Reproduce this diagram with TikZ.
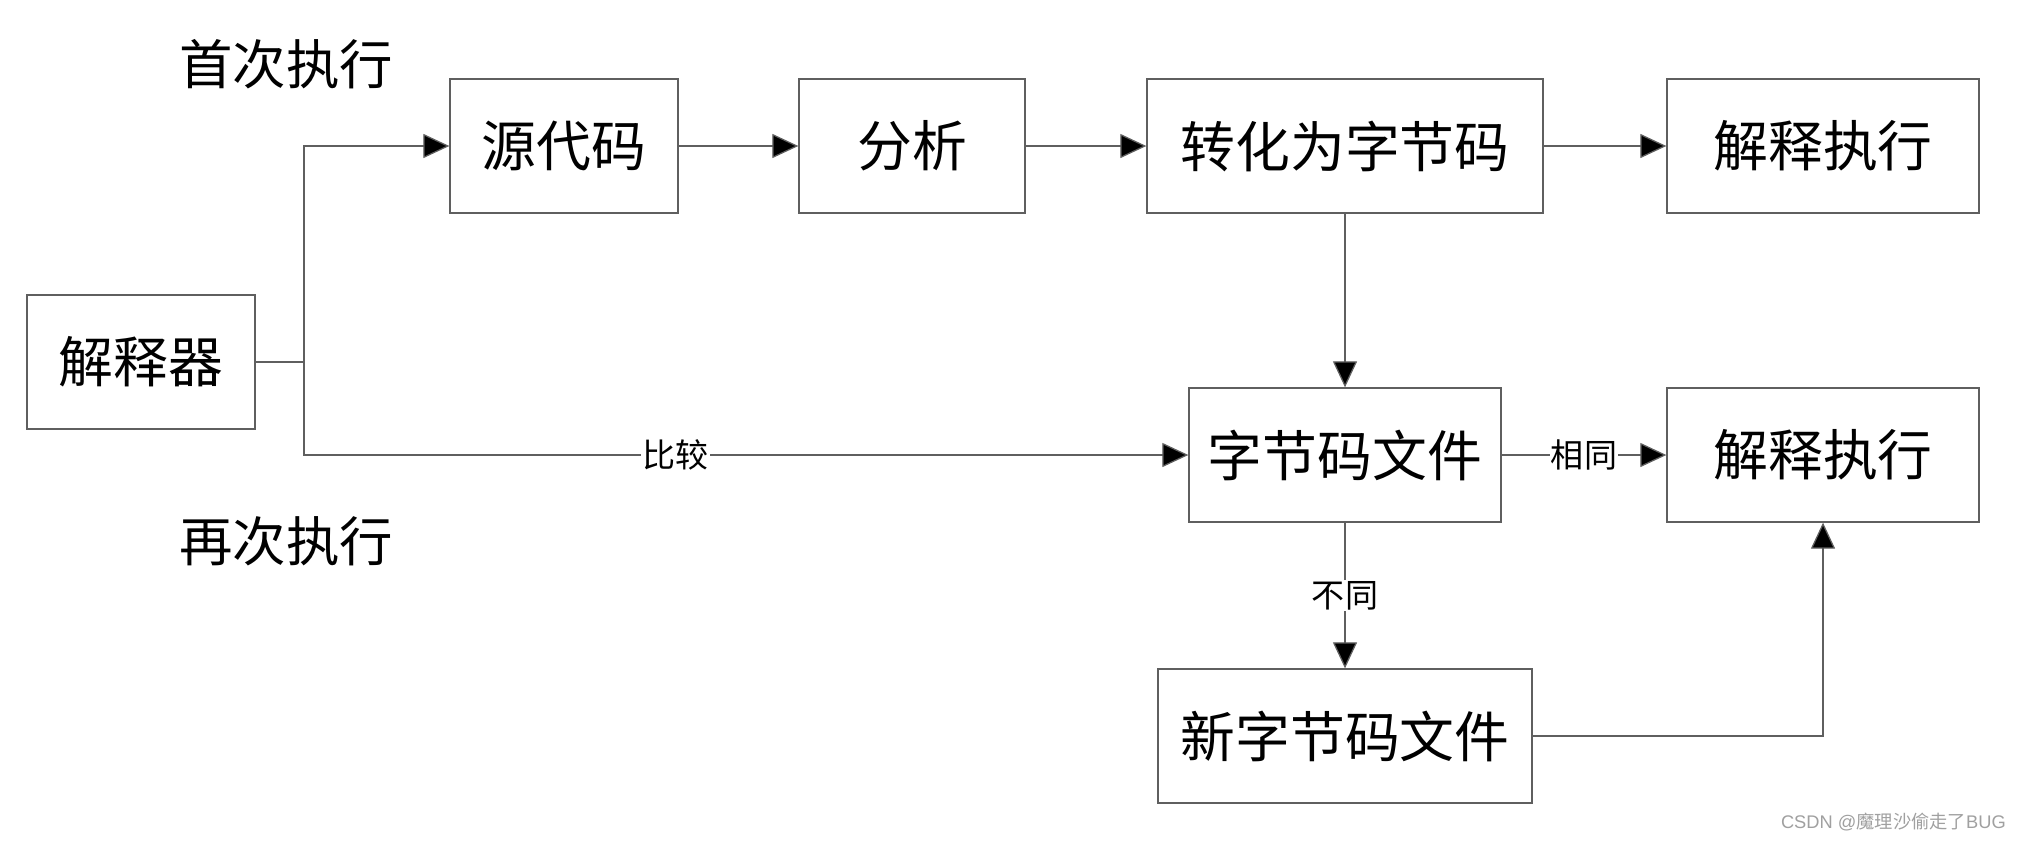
\documentclass[tikz,border=0pt]{standalone}
\usepackage{fontspec}
\newfontfamily\cjk{Noto Sans CJK SC}
\usetikzlibrary{arrows.meta}
\definecolor{linegray}{RGB}{95,95,95}
\definecolor{wmgray}{RGB}{160,160,160}
\begin{document}
\begin{tikzpicture}[x=0.025cm,y=-0.025cm,
  box/.style={draw=linegray, line width=0.9pt, minimum height=3.35cm, inner sep=0pt, font=\cjk\fontsize{39}{42}\selectfont},
  conn/.style={draw=linegray, line width=0.9pt},
  arr/.style={conn, -{Triangle[length=0.65cm,width=0.6cm,fill=black]}},
  lbl/.style={fill=white, inner sep=1pt, font=\cjk\fontsize{23.5}{27}\selectfont},
  head/.style={font=\cjk\fontsize{38}{42}\selectfont}
]
\useasboundingbox (0,0) rectangle (2020,842);
\fill[white] (0,0) rectangle (2020,842);

\node[head] (t1) at (286,64) {首次执行};
\node[head] (t2) at (286,541) {再次执行};

\node[box, minimum width=5.7cm] (jsq) at (141,362) {解释器};
\node[box, minimum width=5.7cm] (ydm) at (564,146) {源代码};
\node[box, minimum width=5.65cm] (fx) at (912,146) {分析};
\node[box, minimum width=9.9cm] (zh) at (1345,146) {转化为字节码};
\node[box, minimum width=7.8cm] (js1) at (1823,146) {解释执行};
\node[box, minimum width=7.8cm] (zjm) at (1345,455) {字节码文件};
\node[box, minimum width=7.8cm] (js2) at (1823,455) {解释执行};
\node[box, minimum width=9.35cm] (xzjm) at (1345,736) {新字节码文件};

\coordinate (J) at (304,362);
\draw[conn] (jsq.east) -- (J);
\draw[arr] (J) |- (ydm.west);
\draw[arr] (J) |- node[lbl, pos=0.71] {比较} (zjm.west);
\draw[arr] (ydm) -- (fx);
\draw[arr] (fx) -- (zh);
\draw[arr] (zh) -- (js1);
\draw[arr] (zh) -- (zjm);
\draw[arr] (zjm) -- node[lbl] {相同} (js2);
\draw[arr] (zjm) -- node[lbl] {不同} (xzjm);
\draw[arr] (xzjm.east) -| (js2.south);

\node[anchor=east, text=wmgray, font=\fontspec{Liberation Sans}\fontsize{13}{15}\selectfont, inner sep=0pt] (wm) at (2006,822) {CSDN @{\cjk 魔理沙偷走了}BUG};
\end{tikzpicture}
\end{document}
